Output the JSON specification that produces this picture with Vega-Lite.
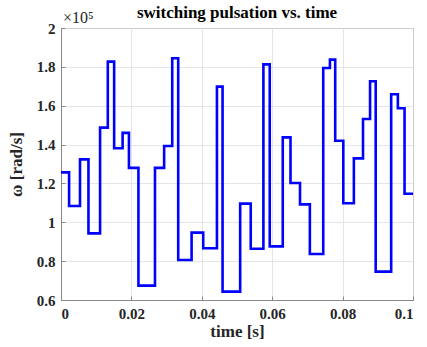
{
  "$schema": "https://vega.github.io/schema/vega-lite/v6.json",
  "width": 352,
  "height": 272,
  "autosize": {"type": "none"},
  "padding": {"left": 61, "top": 28, "right": 14, "bottom": 47},
  "background": "white",
  "title": {
    "text": "switching pulsation vs. time",
    "font": "Liberation Serif",
    "fontSize": 17,
    "fontWeight": "bold",
    "color": "#000000",
    "anchor": "middle",
    "offset": 6,
    "dy": 18
  },
  "config": {
    "view": {"stroke": "#888888", "strokeWidth": 1},
    "axis": {
      "labelFont": "Liberation Serif",
      "labelFontSize": 15,
      "labelFontWeight": "bold",
      "labelColor": "#262626",
      "labelOverlap": false,
      "titleFont": "Liberation Serif",
      "titleFontSize": 17,
      "titleFontWeight": "bold",
      "titleColor": "#262626",
      "gridColor": "#dedede",
      "gridWidth": 0.8,
      "domainColor": "#888888",
      "tickColor": "#888888",
      "tickSize": -4,
      "labelPadding": 10
    }
  },
  "data": {
    "values": [
      {"t": 0, "w": 1.257},
      {"t": 0.0023, "w": 1.084},
      {"t": 0.0054, "w": 1.324},
      {"t": 0.0078, "w": 0.943},
      {"t": 0.0111, "w": 1.487},
      {"t": 0.0133, "w": 1.827},
      {"t": 0.0151, "w": 1.381},
      {"t": 0.0175, "w": 1.46},
      {"t": 0.0193, "w": 1.28},
      {"t": 0.022, "w": 0.674},
      {"t": 0.0267, "w": 1.28},
      {"t": 0.0293, "w": 1.393},
      {"t": 0.0316, "w": 1.844},
      {"t": 0.0333, "w": 0.806},
      {"t": 0.0371, "w": 0.947},
      {"t": 0.0404, "w": 0.866},
      {"t": 0.0443, "w": 1.698},
      {"t": 0.0459, "w": 0.643},
      {"t": 0.0509, "w": 1.096},
      {"t": 0.0539, "w": 0.864},
      {"t": 0.0575, "w": 1.813},
      {"t": 0.0593, "w": 0.876},
      {"t": 0.063, "w": 1.437},
      {"t": 0.0652, "w": 1.202},
      {"t": 0.0679, "w": 1.092},
      {"t": 0.0707, "w": 0.837},
      {"t": 0.0745, "w": 1.794},
      {"t": 0.0764, "w": 1.837},
      {"t": 0.0779, "w": 1.42},
      {"t": 0.0802, "w": 1.098},
      {"t": 0.0832, "w": 1.329},
      {"t": 0.0858, "w": 1.532},
      {"t": 0.0878, "w": 1.726},
      {"t": 0.0894, "w": 0.746},
      {"t": 0.0938, "w": 1.659},
      {"t": 0.0957, "w": 1.587},
      {"t": 0.0976, "w": 1.147},
      {"t": 0.1, "w": 1.147}
    ]
  },
  "encoding": {
    "x": {
      "field": "t",
      "type": "quantitative",
      "scale": {"domain": [0, 0.1], "nice": false, "zero": false},
      "axis": {"values": [0, 0.02, 0.04, 0.06, 0.08, 0.1], "format": "~g", "labelOverlap": false, "labelFont": "Liberation Serif", "labelFontWeight": "bold", "title": "time [s]", "titlePadding": 2}
    },
    "y": {
      "field": "w",
      "type": "quantitative",
      "scale": {"domain": [0.6, 2], "nice": false, "zero": false},
      "axis": {"values": [0.6, 0.8, 1, 1.2, 1.4, 1.6, 1.8, 2], "format": "~g", "labelOverlap": false, "labelFont": "Liberation Serif", "labelFontWeight": "bold", "title": "ω [rad/s]", "titlePadding": 11}
    }
  },
  "layer": [
    {
      "mark": {"type": "line", "interpolate": "step-after", "color": "#0000ff", "strokeWidth": 2.6, "clip": true}
    },
    {
      "data": {"values": [{"t": 0, "w": 2, "label": "×10⁵"}]},
      "mark": {"type": "text", "font": "Liberation Serif", "fontSize": 16, "color": "#262626", "align": "left", "baseline": "bottom", "dx": 2, "dy": -2},
      "encoding": {
        "text": {"field": "label"}
      }
    }
  ]
}
